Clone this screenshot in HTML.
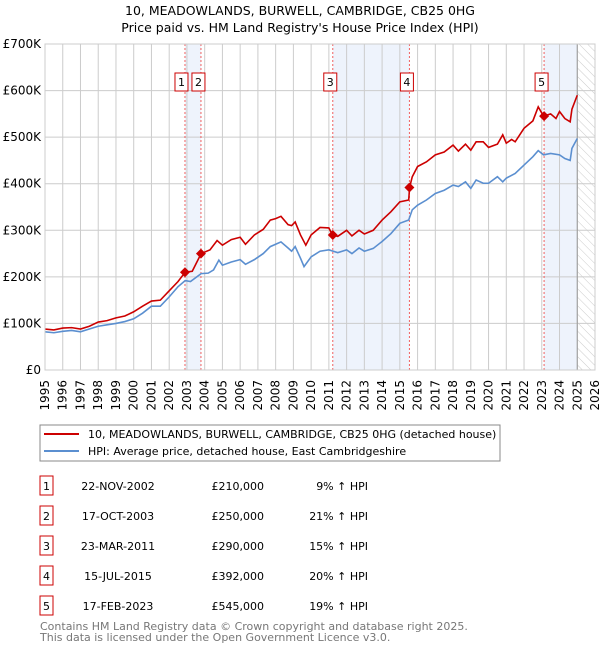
<!DOCTYPE html>
<html><head><meta charset="utf-8"><style>
body{margin:0;background:#fff;font-family:"Liberation Sans","DejaVu Sans",sans-serif;}
svg{display:block}
</style></head><body>
<svg id="chart" width="600" height="650" xmlns="http://www.w3.org/2000/svg" font-family="DejaVu Sans, Liberation Sans, sans-serif">
<defs><pattern id="hatch" width="6" height="6" patternUnits="userSpaceOnUse" patternTransform="rotate(-45)"><line x1="0" y1="0" x2="0" y2="6" stroke="#ccc" stroke-width="1"/></pattern></defs>
<text x="300" y="15" text-anchor="middle" font-size="12.5" fill="#000">10, MEADOWLANDS, BURWELL, CAMBRIDGE, CB25 0HG</text>
<text x="300" y="32" text-anchor="middle" font-size="12.5" fill="#000">Price paid vs. HM Land Registry's House Price Index (HPI)</text>
<g id="plot"></g>
<g>
<rect x="40" y="425" width="460" height="36" fill="#fff" stroke="#888"/>
<line x1="44" y1="434" x2="79" y2="434" stroke="#cc0000" stroke-width="2"/>
<text x="88" y="438" font-size="11">10, MEADOWLANDS, BURWELL, CAMBRIDGE, CB25 0HG (detached house)</text>
<line x1="44" y1="451" x2="79" y2="451" stroke="#5b8fd0" stroke-width="2"/>
<text x="88" y="455" font-size="11">HPI: Average price, detached house, East Cambridgeshire</text>
</g>
<g id="table"></g>
<text x="40" y="630" font-size="11" fill="#777">Contains HM Land Registry data © Crown copyright and database right 2025.</text>
<text x="40" y="641" font-size="11" fill="#777">This data is licensed under the Open Government Licence v3.0.</text>
</svg>
<script>
const hpiYears=[1995,1995.5,1996,1996.5,1997,1997.5,1998,1998.5,1999,1999.5,2000,2000.5,2001,2001.5,2002,2002.5,2002.9,2003.2,2003.8,2004.2,2004.5,2004.8,2005,2005.5,2006,2006.3,2006.8,2007.3,2007.7,2008,2008.3,2008.7,2008.9,2009.1,2009.4,2009.6,2010,2010.5,2011,2011.5,2012,2012.3,2012.7,2013,2013.5,2014,2014.5,2015,2015.5,2015.7,2016,2016.5,2017,2017.5,2018,2018.3,2018.7,2019,2019.3,2019.7,2020,2020.5,2020.8,2021,2021.5,2022,2022.5,2022.8,2023.1,2023.5,2024,2024.3,2024.6,2024.7,2025];
const hpiValues=[82,80,83,85,82,88,94,97,100,104,110,122,137,137,157,179,192,190,207,208,215,236,225,232,237,227,237,250,265,270,275,262,255,265,240,222,243,255,258,252,258,250,262,255,261,276,293,315,322,344,354,365,379,386,397,394,404,390,408,401,401,415,404,412,422,440,458,471,462,465,462,454,450,476,497];
const paidYears=[1995,1995.5,1996,1996.5,1997,1997.5,1998,1998.5,1999,1999.5,2000,2000.5,2001,2001.5,2002,2002.5,2002.9,2003.3,2003.8,2004.3,2004.7,2005,2005.5,2006,2006.3,2006.8,2007.3,2007.7,2008,2008.3,2008.7,2008.9,2009.1,2009.4,2009.7,2010,2010.5,2011,2011.2,2011.5,2012,2012.3,2012.7,2013,2013.5,2014,2014.5,2015,2015.5,2015.55,2015.7,2016,2016.5,2017,2017.5,2018,2018.3,2018.7,2019,2019.3,2019.7,2020,2020.5,2020.8,2021,2021.3,2021.5,2022,2022.5,2022.8,2023.1,2023.5,2023.8,2024,2024.3,2024.6,2024.7,2025];
const paidValues=[88,86,90,91,88,94,103,106,112,116,125,137,148,150,170,190,210,212,250,258,278,268,280,285,270,290,302,322,325,330,312,310,318,290,268,290,306,305,290,287,300,288,300,292,300,322,340,361,365,392,415,437,447,462,468,483,470,485,472,490,490,478,485,505,487,495,490,519,535,565,545,550,540,555,540,533,560,590];
const saleYears=[2002.89,2003.79,2011.22,2015.54,2023.13];
const saleValues=[210,250,290,392,545];
const saleLabels=["1","2","3","4","5"];
const saleDates=["22-NOV-2002","17-OCT-2003","23-MAR-2011","15-JUL-2015","17-FEB-2023"];
const salePrices=["£210,000","£250,000","£290,000","£392,000","£545,000"];
const salePct=["9% ↑ HPI","21% ↑ HPI","15% ↑ HPI","20% ↑ HPI","19% ↑ HPI"];
const yTicks=[0,100,200,300,400,500,600,700];
const yTickLabels=["£0","£100K","£200K","£300K","£400K","£500K","£600K","£700K"];
const xTicks=[1995,1996,1997,1998,1999,2000,2001,2002,2003,2004,2005,2006,2007,2008,2009,2010,2011,2012,2013,2014,2015,2016,2017,2018,2019,2020,2021,2022,2023,2024,2025,2026];
const shadeRanges=[[2002.89,2003.79],[2011.22,2015.54],[2023.13,2025.0]];

const X0=45,X1=595,Y0=370,Y1=44;
const xs=y=>X0+(y-1995)/(2026-1995)*(X1-X0);
const ys=v=>Y0-v/700*(Y0-Y1);
const NS="http://www.w3.org/2000/svg";
const plot=document.getElementById('plot');
function mk(tag,attrs,parent){const e=document.createElementNS(NS,tag);for(const k in attrs)e.setAttribute(k,attrs[k]);(parent||plot).appendChild(e);return e;}

shadeRanges.forEach(r=>{
  const e=mk('rect',{x:xs(r[0]),y:Y1,width:xs(r[1])-xs(r[0]),height:Y0-Y1,fill:'#eef3fc'});
  
  
});
const h=mk('rect',{x:xs(2025.0),y:Y1,width:X1-xs(2025.0),height:Y0-Y1,fill:'url(#hatch)'});


xTicks.forEach(t=>{
  const g=mk('line',{x1:xs(t),x2:xs(t),y1:Y1,y2:Y0,stroke:'#ccc','stroke-width':1});
  
  
  const tx=mk('text',{x:0,y:0,'font-size':12,'text-anchor':'end',transform:`translate(${xs(t)+4},${Y0+10}) rotate(-90)`});
  tx.textContent=t;
  
  
});
yTicks.forEach((t,i)=>{
  const g=mk('line',{x1:X0,x2:X1,y1:ys(t),y2:ys(t),stroke:'#ccc','stroke-width':1});
  
  
  const tx=mk('text',{x:X0-4,y:ys(t)+4,'font-size':12,'text-anchor':'end'});
  tx.textContent=yTickLabels[i];
  
  
});
mk('line',{x1:xs(2025),x2:xs(2025),y1:Y1,y2:Y0,stroke:'#999','stroke-width':1});
saleYears.forEach((y,i)=>{
  const l=mk('line',{x1:xs(y),x2:xs(y),y1:Y1,y2:Y0,stroke:'#f06060','stroke-width':1,'stroke-dasharray':'2,2'});
  
  
});
const hp=mk('polyline',{points:hpiYears.map((y,i)=>xs(y)+','+ys(hpiValues[i])).join(' '),fill:'none',stroke:'#5b8fd0','stroke-width':1.6});


const pp=mk('polyline',{points:paidYears.map((y,i)=>xs(y)+','+ys(paidValues[i])).join(' '),fill:'none',stroke:'#cc0000','stroke-width':1.6});


saleYears.forEach((y,i)=>{
  const cx=xs(y),cy=ys(saleValues[i]);
  const d=mk('polygon',{points:`${cx},${cy-5} ${cx+5},${cy} ${cx},${cy+5} ${cx-5},${cy}`,fill:'#cc0000'});
  
  
  const b=mk('rect',{x:i===0?cx-10:cx-9,y:73,width:13,height:18,fill:'#fff',stroke:'#cc0000'});
  
  
  const t=mk('text',{x:(i===0?cx-10:cx-9)+6.5,y:86,'font-size':11,'text-anchor':'middle'});
  t.textContent=saleLabels[i];
  
  
});
mk('rect',{x:X0,y:Y1,width:X1-X0,height:Y0-Y1,fill:'none',stroke:'#ccc'});

const tb=document.getElementById('table');
saleLabels.forEach((s,i)=>{
  const y=483+i*30;
  const r=mk('rect',{x:40,y:y-7,width:13,height:19,fill:'#fff',stroke:'#cc0000'},tb);
  
  
  const cells=[[46.5,s,'middle'],[118,saleDates[i],'middle'],[264,salePrices[i],'end'],[368,salePct[i],'end']];
  cells.forEach(c=>{
    const t=mk('text',{x:c[0],y:y+7,'font-size':11,'text-anchor':c[2]},tb);
    t.textContent=c[1];
    
    
  });
});
</script>
</body></html>
